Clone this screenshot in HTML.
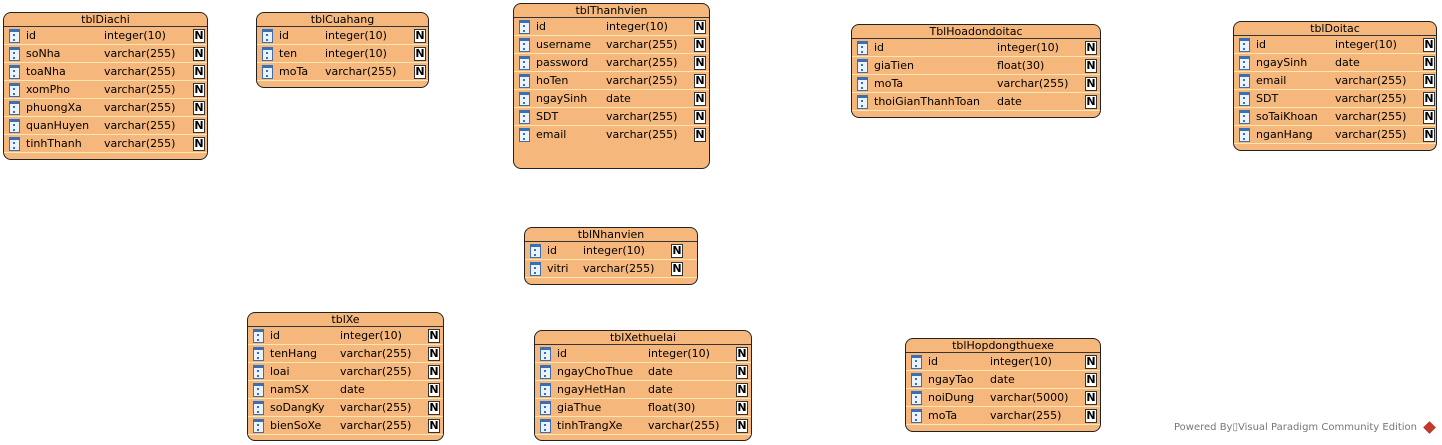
<!DOCTYPE html>
<html><head><meta charset="utf-8"><style>
body{margin:0;width:1442px;height:445px;background:#fff;position:relative;overflow:hidden;font-family:"DejaVu Sans","Liberation Sans",sans-serif;font-size:11px;color:#000}
.t{position:absolute;background:#f5b77b;border:1px solid #222;border-radius:8px;box-sizing:border-box}
.h{height:14px;line-height:13px;text-align:center;border-bottom:1px solid #333;font-size:11px;box-sizing:border-box}
.r{position:relative;height:18px;line-height:17px;border-bottom:1px solid #fbe8b0;box-sizing:border-box}
.r i{position:absolute;left:5px;top:2px;width:11px;height:14px;background:#eaf2fb;border:1px solid #3a6fb5;box-sizing:border-box;border-top:3px solid #3a6fb5}
.r i:after{content:"";position:absolute;left:3px;top:2px;width:3px;height:7px;border-left:2px dotted #3a6fb5}
.r .n{position:absolute;left:22px}
.r .ty{position:absolute}
.r b{position:absolute;top:2px;width:12px;height:14px;border:1px solid #333;background:#fff;box-sizing:border-box;font-size:11px;line-height:12px;text-align:center;font-weight:bold}
.foot{position:absolute;left:1174px;top:422px;font-size:10px;color:#777}
</style></head><body>

<div class="t" style="left:3px;top:12px;width:205px;height:148px"><div class="h">tblDiachi</div>
<div class="r"><i></i><span class="n">id</span><span class="ty" style="left:100px">integer(10)</span><b style="left:189px">N</b></div>
<div class="r"><i></i><span class="n">soNha</span><span class="ty" style="left:100px">varchar(255)</span><b style="left:189px">N</b></div>
<div class="r"><i></i><span class="n">toaNha</span><span class="ty" style="left:100px">varchar(255)</span><b style="left:189px">N</b></div>
<div class="r"><i></i><span class="n">xomPho</span><span class="ty" style="left:100px">varchar(255)</span><b style="left:189px">N</b></div>
<div class="r"><i></i><span class="n">phuongXa</span><span class="ty" style="left:100px">varchar(255)</span><b style="left:189px">N</b></div>
<div class="r"><i></i><span class="n">quanHuyen</span><span class="ty" style="left:100px">varchar(255)</span><b style="left:189px">N</b></div>
<div class="r"><i></i><span class="n">tinhThanh</span><span class="ty" style="left:100px">varchar(255)</span><b style="left:189px">N</b></div>
</div>

<div class="t" style="left:256px;top:12px;width:173px;height:76px"><div class="h">tblCuahang</div>
<div class="r"><i></i><span class="n">id</span><span class="ty" style="left:68px">integer(10)</span><b style="left:157px">N</b></div>
<div class="r"><i></i><span class="n">ten</span><span class="ty" style="left:68px">integer(10)</span><b style="left:157px">N</b></div>
<div class="r"><i></i><span class="n">moTa</span><span class="ty" style="left:68px">varchar(255)</span><b style="left:157px">N</b></div>
</div>

<div class="t" style="left:513px;top:3px;width:197px;height:166px"><div class="h">tblThanhvien</div>
<div class="r"><i></i><span class="n">id</span><span class="ty" style="left:92px">integer(10)</span><b style="left:180px">N</b></div>
<div class="r"><i></i><span class="n">username</span><span class="ty" style="left:92px">varchar(255)</span><b style="left:180px">N</b></div>
<div class="r"><i></i><span class="n">password</span><span class="ty" style="left:92px">varchar(255)</span><b style="left:180px">N</b></div>
<div class="r"><i></i><span class="n">hoTen</span><span class="ty" style="left:92px">varchar(255)</span><b style="left:180px">N</b></div>
<div class="r"><i></i><span class="n">ngaySinh</span><span class="ty" style="left:92px">date</span><b style="left:180px">N</b></div>
<div class="r"><i></i><span class="n">SDT</span><span class="ty" style="left:92px">varchar(255)</span><b style="left:180px">N</b></div>
<div class="r" style="border:0"><i></i><span class="n">email</span><span class="ty" style="left:92px">varchar(255)</span><b style="left:180px">N</b></div>
</div>

<div class="t" style="left:851px;top:24px;width:250px;height:94px"><div class="h">TblHoadondoitac</div>
<div class="r"><i></i><span class="n">id</span><span class="ty" style="left:145px">integer(10)</span><b style="left:233px">N</b></div>
<div class="r"><i></i><span class="n">giaTien</span><span class="ty" style="left:145px">float(30)</span><b style="left:233px">N</b></div>
<div class="r"><i></i><span class="n">moTa</span><span class="ty" style="left:145px">varchar(255)</span><b style="left:233px">N</b></div>
<div class="r"><i></i><span class="n">thoiGianThanhToan</span><span class="ty" style="left:145px">date</span><b style="left:233px">N</b></div>
</div>

<div class="t" style="left:1233px;top:21px;width:204px;height:130px"><div class="h">tblDoitac</div>
<div class="r"><i></i><span class="n">id</span><span class="ty" style="left:101px">integer(10)</span><b style="left:189px">N</b></div>
<div class="r"><i></i><span class="n">ngaySinh</span><span class="ty" style="left:101px">date</span><b style="left:189px">N</b></div>
<div class="r"><i></i><span class="n">email</span><span class="ty" style="left:101px">varchar(255)</span><b style="left:189px">N</b></div>
<div class="r"><i></i><span class="n">SDT</span><span class="ty" style="left:101px">varchar(255)</span><b style="left:189px">N</b></div>
<div class="r"><i></i><span class="n">soTaiKhoan</span><span class="ty" style="left:101px">varchar(255)</span><b style="left:189px">N</b></div>
<div class="r"><i></i><span class="n">nganHang</span><span class="ty" style="left:101px">varchar(255)</span><b style="left:189px">N</b></div>
</div>

<div class="t" style="left:524px;top:227px;width:174px;height:58px"><div class="h">tblNhanvien</div>
<div class="r"><i></i><span class="n">id</span><span class="ty" style="left:58px">integer(10)</span><b style="left:146px">N</b></div>
<div class="r"><i></i><span class="n">vitri</span><span class="ty" style="left:58px">varchar(255)</span><b style="left:146px">N</b></div>
</div>

<div class="t" style="left:247px;top:312px;width:197px;height:129px"><div class="h">tblXe</div>
<div class="r"><i></i><span class="n">id</span><span class="ty" style="left:92px">integer(10)</span><b style="left:180px">N</b></div>
<div class="r"><i></i><span class="n">tenHang</span><span class="ty" style="left:92px">varchar(255)</span><b style="left:180px">N</b></div>
<div class="r"><i></i><span class="n">loai</span><span class="ty" style="left:92px">varchar(255)</span><b style="left:180px">N</b></div>
<div class="r"><i></i><span class="n">namSX</span><span class="ty" style="left:92px">date</span><b style="left:180px">N</b></div>
<div class="r"><i></i><span class="n">soDangKy</span><span class="ty" style="left:92px">varchar(255)</span><b style="left:180px">N</b></div>
<div class="r"><i></i><span class="n">bienSoXe</span><span class="ty" style="left:92px">varchar(255)</span><b style="left:180px">N</b></div>
</div>

<div class="t" style="left:534px;top:330px;width:218px;height:111px"><div class="h">tblXethuelai</div>
<div class="r"><i></i><span class="n">id</span><span class="ty" style="left:113px">integer(10)</span><b style="left:201px">N</b></div>
<div class="r"><i></i><span class="n">ngayChoThue</span><span class="ty" style="left:113px">date</span><b style="left:201px">N</b></div>
<div class="r"><i></i><span class="n">ngayHetHan</span><span class="ty" style="left:113px">date</span><b style="left:201px">N</b></div>
<div class="r"><i></i><span class="n">giaThue</span><span class="ty" style="left:113px">float(30)</span><b style="left:201px">N</b></div>
<div class="r"><i></i><span class="n">tinhTrangXe</span><span class="ty" style="left:113px">varchar(255)</span><b style="left:201px">N</b></div>
</div>

<div class="t" style="left:905px;top:338px;width:196px;height:94px"><div class="h">tblHopdongthuexe</div>
<div class="r"><i></i><span class="n">id</span><span class="ty" style="left:84px">integer(10)</span><b style="left:179px">N</b></div>
<div class="r"><i></i><span class="n">ngayTao</span><span class="ty" style="left:84px">date</span><b style="left:179px">N</b></div>
<div class="r"><i></i><span class="n">noiDung</span><span class="ty" style="left:84px">varchar(5000)</span><b style="left:179px">N</b></div>
<div class="r"><i></i><span class="n">moTa</span><span class="ty" style="left:84px">varchar(255)</span><b style="left:179px">N</b></div>
</div>

<div class="foot">Powered By&#9647;Visual Paradigm Community Edition</div>
<div style="position:absolute;left:1425px;top:423px;width:9px;height:9px;background:#c0392b;transform:rotate(45deg)"></div>
</body></html>
